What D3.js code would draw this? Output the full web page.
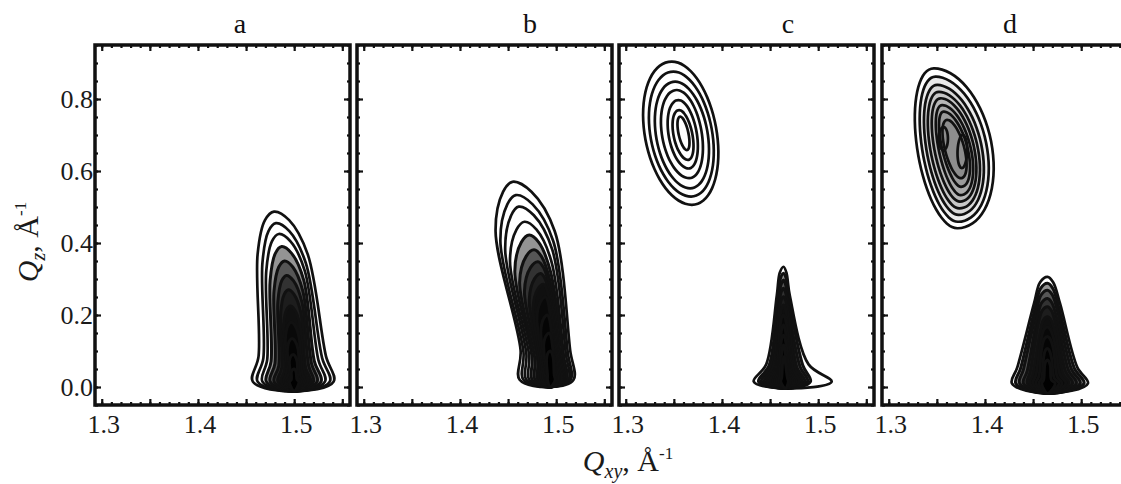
<!DOCTYPE html>
<meta charset="utf-8">
<script src="https://d3js.org/d3.v7.min.js"></script>
<body style="margin:0;background:#fff">
  <div id="chart"></div>
</body>
<script>
  // ---- data ----
  const panelNames = ["a", "b", "c", "d"];
  const xLabelTicks = [1.3, 1.4, 1.5];
  const xMajorTicks = [1.3, 1.35, 1.4, 1.45, 1.5, 1.55];
  const yLabelTicks = [0.0, 0.2, 0.4, 0.6, 0.8];

  // flame-shaped peaks near Qz = 0
  // each ring: [qzTop, qxyTop, qxyLeftHigh, qxyLeftLow, qxyRightHigh, qxyRightLow, qxyFootL, qxyFootR]
  // base: [qzBase, qxyBottom, qzBottom]
  const peakA = [
    [0.487, 1.479, 1.462, 1.463, 1.514, 1.533, 1.457, 1.541],
    [0.455, 1.481, 1.467, 1.468, 1.512, 1.529, 1.462, 1.537],
    [0.425, 1.484, 1.471, 1.472, 1.511, 1.525, 1.467, 1.532],
    [0.390, 1.487, 1.475, 1.476, 1.510, 1.521, 1.471, 1.528],
    [0.350, 1.490, 1.479, 1.480, 1.509, 1.518, 1.475, 1.524],
    [0.310, 1.492, 1.483, 1.484, 1.508, 1.515, 1.479, 1.520],
    [0.270, 1.494, 1.486, 1.487, 1.507, 1.512, 1.483, 1.517],
    [0.225, 1.496, 1.489, 1.490, 1.506, 1.510, 1.486, 1.514],
    [0.180, 1.497, 1.491, 1.492, 1.505, 1.508, 1.489, 1.511],
    [0.135, 1.498, 1.493, 1.494, 1.504, 1.506, 1.491, 1.509],
    [0.090, 1.499, 1.495, 1.496, 1.503, 1.504, 1.493, 1.507],
    [0.050, 1.500, 1.497, 1.497, 1.502, 1.503, 1.495, 1.505]
  ];
  const baseA = [0.015, 1.500, -0.012];

  const peakB = [
    [0.570, 1.4545, 1.437, 1.463, 1.4985, 1.5145, 1.462, 1.518],
    [0.533, 1.458, 1.442, 1.466, 1.497, 1.512, 1.466, 1.515],
    [0.501, 1.461, 1.447, 1.469, 1.496, 1.510, 1.469, 1.513],
    [0.459, 1.467, 1.452, 1.472, 1.495, 1.508, 1.472, 1.511],
    [0.422, 1.472, 1.457, 1.475, 1.494, 1.507, 1.475, 1.509],
    [0.381, 1.477, 1.462, 1.478, 1.494, 1.505, 1.478, 1.508],
    [0.348, 1.481, 1.467, 1.481, 1.494, 1.504, 1.481, 1.507],
    [0.315, 1.484, 1.472, 1.483, 1.494, 1.503, 1.483, 1.506],
    [0.285, 1.487, 1.476, 1.485, 1.494, 1.502, 1.485, 1.505],
    [0.250, 1.489, 1.480, 1.487, 1.494, 1.501, 1.487, 1.503],
    [0.200, 1.491, 1.484, 1.489, 1.495, 1.500, 1.489, 1.502],
    [0.150, 1.493, 1.487, 1.490, 1.496, 1.499, 1.490, 1.500],
    [0.100, 1.494, 1.490, 1.491, 1.497, 1.498, 1.491, 1.499]
  ];
  const baseB = [0.020, 1.494, 0.000];

  const peakCLow = [
    [0.334, 1.464, 1.457, 1.446, 1.4705, 1.490, 1.433, 1.514],
    [0.316, 1.464, 1.458, 1.449, 1.470, 1.484, 1.438, 1.492],
    [0.297, 1.464, 1.459, 1.451, 1.469, 1.481, 1.441, 1.489],
    [0.274, 1.464, 1.459, 1.453, 1.469, 1.478, 1.444, 1.486],
    [0.251, 1.464, 1.459, 1.455, 1.469, 1.476, 1.447, 1.483],
    [0.228, 1.464, 1.460, 1.456, 1.468, 1.474, 1.450, 1.480],
    [0.200, 1.464, 1.460, 1.457, 1.468, 1.472, 1.453, 1.477],
    [0.172, 1.464, 1.461, 1.458, 1.467, 1.471, 1.455, 1.475],
    [0.144, 1.464, 1.461, 1.459, 1.467, 1.470, 1.457, 1.473],
    [0.117, 1.464, 1.462, 1.460, 1.466, 1.469, 1.459, 1.471],
    [0.085, 1.465, 1.463, 1.462, 1.466, 1.468, 1.461, 1.469]
  ];
  const baseCLow = [0.015, 1.466, -0.004];

  const peakDLow = [
    [0.306, 1.465, 1.451, 1.4336, 1.478, 1.496, 1.428, 1.507],
    [0.288, 1.465, 1.452, 1.437, 1.477, 1.493, 1.432, 1.503],
    [0.269, 1.465, 1.453, 1.440, 1.476, 1.490, 1.436, 1.499],
    [0.246, 1.465, 1.454, 1.444, 1.475, 1.487, 1.440, 1.495],
    [0.223, 1.465, 1.455, 1.447, 1.474, 1.484, 1.444, 1.491],
    [0.195, 1.465, 1.457, 1.450, 1.473, 1.481, 1.447, 1.487],
    [0.167, 1.465, 1.458, 1.453, 1.472, 1.478, 1.450, 1.484],
    [0.140, 1.465, 1.459, 1.456, 1.471, 1.475, 1.453, 1.480],
    [0.107, 1.465, 1.461, 1.459, 1.469, 1.472, 1.456, 1.477],
    [0.075, 1.465, 1.462, 1.461, 1.468, 1.469, 1.459, 1.473]
  ];
  const baseDLow = [0.010, 1.465, -0.018];

  // oval peaks at high Qz
  // each ring: [qxyTop, qzTop, qxyBottom, qzBottom, qxyLeft, qxyRight]
  const blobC = [
    [1.3479, 0.904, 1.3688, 0.506, 1.3194, 1.3948],
    [1.3496, 0.876, 1.3680, 0.529, 1.3253, 1.3902],
    [1.3514, 0.848, 1.3670, 0.552, 1.3313, 1.3854],
    [1.3531, 0.825, 1.3660, 0.580, 1.3375, 1.3792],
    [1.3548, 0.797, 1.3653, 0.607, 1.3444, 1.3740],
    [1.3555, 0.769, 1.3646, 0.631, 1.3496, 1.3694],
    [1.3566, 0.751, 1.3635, 0.658, 1.3548, 1.3652]
  ];
  const blobD = [
    [1.3468, 0.885, 1.3711, 0.441, 1.3295, 1.4076],
    [1.3485, 0.862, 1.3718, 0.459, 1.3347, 1.4024],
    [1.3503, 0.839, 1.3725, 0.478, 1.3392, 1.3972],
    [1.3520, 0.820, 1.3732, 0.496, 1.3433, 1.3930],
    [1.3538, 0.802, 1.3739, 0.515, 1.3475, 1.3892],
    [1.3555, 0.783, 1.3746, 0.533, 1.3520, 1.3857],
    [1.3572, 0.765, 1.3750, 0.556, 1.3555, 1.3822],
    [1.3607, 0.742, 1.3750, 0.580, 1.3582, 1.3788],
    [1.3570, 0.722, 1.3570, 0.658, 1.3520, 1.3615],
    [1.3770, 0.700, 1.3760, 0.608, 1.3715, 1.3815]
  ];

  const panelFlames = [[peakA, baseA], [peakB, baseB], [peakCLow, baseCLow], [peakDLow, baseDLow]];
  const panelBlobs = [null, null, blobC, blobD];

  // ---- layout ----
  const W = 1121, H = 484;
  const panelLeft = [95, 357, 619, 882];
  const titleX = [240, 530, 788, 1010];
  const shadeFrom = [3, 4, 1, 1];   // rings from this index on get a dark tint
  const pw = 255, plotTop = 45, ph = 360;
  const serif = "'Liberation Serif', 'Times New Roman', serif";
  const ink = "#111";

  const svg = d3.select("#chart").append("svg")
    .attr("width", W)
    .attr("height", H)
    .style("display", "block");

  const x = d3.scaleLinear().domain([1.293, 1.558]).range([0, pw]);
  const y = d3.scaleLinear().domain([-0.05, 0.95]).range([ph, 0]);

  const xMinor = d3.range(1.30, 1.5551, 0.01);
  const yMinor = d3.range(-0.05, 0.951, 0.05);
  const yMajor = [0, 0.2, 0.4, 0.6, 0.8];

  const line = d3.line()
    .x(d => x(d[0]))
    .y(d => y(d[1]))
    .curve(d3.curveCatmullRomClosed.alpha(0.5));

  const flamePoints = (r, base) => {
    const [yT, xT, xLT, xLB, xRT, xRB, fL, fR] = r;
    const [yB, vx, vy] = base;
    const h = yT - yB;
    return [
      [fL, yB], [xLB, yB + 0.15 * h], [xLT, yB + 0.75 * h],
      [xLT + 0.45 * (xT - xLT), yB + 0.95 * h], [xT, yT],
      [xT + 0.45 * (xRT - xT), yB + 0.95 * h], [xRT, yB + 0.75 * h],
      [xRB, yB + 0.15 * h], [fR, yB], [vx, vy]
    ];
  };

  const blobPoints = (r) => {
    const [xT, yT, xB, yB, xL, xR] = r;
    const mx = (xT + xB) / 2, my = (yT + yB) / 2;
    return d3.range(0, 36).map(i => {
      const t = i / 36 * 2 * Math.PI;
      const s = Math.sin(t), c = Math.cos(t);
      const half = s > 0 ? (xR - mx) : (mx - xL);
      return [mx + c * (xT - mx) + s * half, my + c * (yT - my)];
    });
  };

  panelNames.forEach((name, p) => {
    const g = svg.append("g").attr("transform", `translate(${panelLeft[p]},${plotTop})`);

    g.append("clipPath").attr("id", "clip" + p)
      .append("rect").attr("width", pw).attr("height", ph);

    const plot = g.append("g").attr("clip-path", `url(#clip${p})`);

    const [rings, base] = panelFlames[p];
    plot.selectAll("path.flame")
      .data(rings)
      .join("path")
      .attr("class", "flame")
      .attr("d", r => line(flamePoints(r, base)))
      .attr("fill", (r, i) => i >= shadeFrom[p] ? "rgba(0,0,0,0.42)" : "none")
      .attr("stroke", ink)
      .attr("stroke-width", (r, i) => i >= shadeFrom[p] ? 3 : 2.7)
      .attr("stroke-linejoin", "round");

    if (panelBlobs[p]) {
      plot.selectAll("path.blob")
        .data(panelBlobs[p])
        .join("path")
        .attr("class", "blob")
        .attr("d", r => line(blobPoints(r)))
        .attr("fill", (r, i) => p === 3 && i >= 1 && i < 8 ? "rgba(0,0,0,0.08)" : "none")
        .attr("stroke", ink)
        .attr("stroke-width", 2.7);
    }

    // inward ticks on all four sides
    const tickStyle = sel => {
      sel.select(".domain").remove();
      sel.selectAll(".tick line").attr("stroke", ink).attr("stroke-width", 2.2);
    };
    g.append("g").attr("transform", `translate(0,${ph})`)
      .call(d3.axisBottom(x).tickValues(xMinor).tickSize(-3).tickFormat("")).call(tickStyle);
    g.append("g").attr("transform", `translate(0,${ph})`)
      .call(d3.axisBottom(x).tickValues(xMajorTicks).tickSize(-6).tickFormat("")).call(tickStyle);
    g.append("g")
      .call(d3.axisTop(x).tickValues(xMinor).tickSize(-3).tickFormat("")).call(tickStyle);
    g.append("g")
      .call(d3.axisTop(x).tickValues(xMajorTicks).tickSize(-6).tickFormat("")).call(tickStyle);
    g.append("g")
      .call(d3.axisLeft(y).tickValues(yMinor).tickSize(-3).tickFormat("")).call(tickStyle);
    g.append("g")
      .call(d3.axisLeft(y).tickValues(yMajor).tickSize(-6).tickFormat("")).call(tickStyle);
    g.append("g").attr("transform", `translate(${pw},0)`)
      .call(d3.axisRight(y).tickValues(yMinor).tickSize(-3).tickFormat("")).call(tickStyle);
    g.append("g").attr("transform", `translate(${pw},0)`)
      .call(d3.axisRight(y).tickValues(yMajor).tickSize(-6).tickFormat("")).call(tickStyle);

    // frame
    g.append("rect")
      .attr("width", pw)
      .attr("height", ph)
      .attr("fill", "none")
      .attr("stroke", ink)
      .attr("stroke-width", 3.5);

    // x tick labels
    g.selectAll("text.xl")
      .data(xLabelTicks)
      .join("text")
      .attr("class", "xl")
      .attr("x", d => x(d) + 2)
      .attr("y", ph + 28)
      .attr("text-anchor", "middle")
      .style("font-family", serif)
      .style("font-size", "26px")
      .attr("fill", "#1a1a1a")
      .text(d => d3.format(".1f")(d));

    // y tick labels on first panel only
    if (p === 0) {
      g.selectAll("text.yl")
        .data(yLabelTicks)
        .join("text")
        .attr("class", "yl")
        .attr("x", -2)
        .attr("y", d => y(d))
        .attr("dy", "0.34em")
        .attr("text-anchor", "end")
        .style("font-family", serif)
        .style("font-size", "26px")
        .attr("fill", "#1a1a1a")
        .text(d => d3.format(".1f")(d));
    }

    // panel letter
    svg.append("text")
      .attr("x", titleX[p])
      .attr("y", 33)
      .attr("text-anchor", "middle")
      .style("font-family", serif)
      .style("font-size", "28px")
      .attr("fill", "#111")
      .text(name);
  });

  // axis titles
  const addTitle = (sel, sub) => {
    sel.style("font-family", serif).style("font-size", "30px").attr("fill", "#1a1a1a");
    sel.append("tspan").style("font-style", "italic").text("Q");
    sel.append("tspan").style("font-style", "italic").style("font-size", "20px").attr("dy", 7).text(sub);
    sel.append("tspan").attr("dy", -7).text(", Å");
    sel.append("tspan").style("font-size", "17px").attr("dy", -12).text("-1");
  };

  svg.append("text")
    .attr("transform", "translate(38,242) rotate(-90)")
    .attr("text-anchor", "middle")
    .call(addTitle, "z");

  svg.append("text")
    .attr("x", 628)
    .attr("y", 471)
    .attr("text-anchor", "middle")
    .call(addTitle, "xy");
</script>
